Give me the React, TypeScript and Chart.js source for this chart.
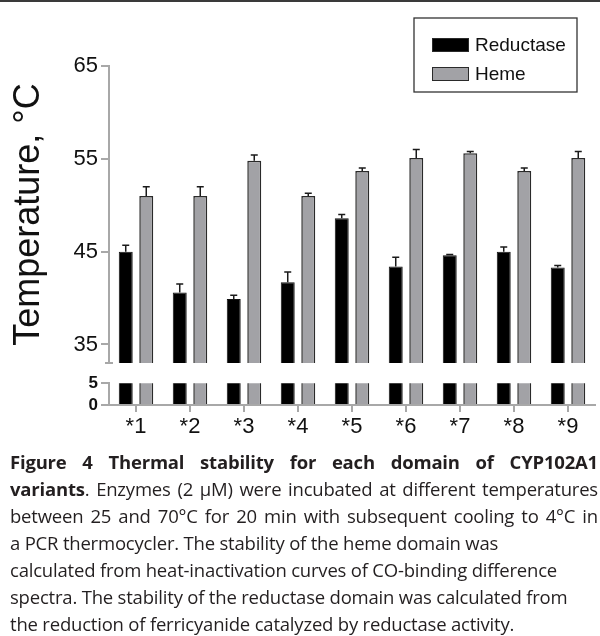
import React, { useEffect, useRef } from 'react';
import { Chart, registerables } from 'chart.js';

Chart.register(...registerables);

const categories = ['*1', '*2', '*3', '*4', '*5', '*6', '*7', '*8', '*9'];
const seriesLabels = ['Reductase', 'Heme'];
const reductase = [45.0, 40.6, 39.9, 41.7, 48.6, 43.4, 44.6, 45.0, 43.3];
const reductaseErr = [0.7, 0.9, 0.4, 1.1, 0.4, 1.0, 0.1, 0.5, 0.2];
const heme = [51.0, 51.0, 54.8, 51.0, 53.7, 55.1, 55.6, 53.7, 55.1];
const hemeErr = [1.0, 1.0, 0.6, 0.3, 0.3, 0.9, 0.2, 0.3, 0.7];
const upperTicks = [35, 45, 55, 65];
const upperRange = [33, 65];
const lowerTicks = [0, 5];
const lowerRange = [0, 5];
const yTitle = 'Temperature, \u00B0C';

const captionTitle = 'Figure 4 Thermal stability for each domain of CYP102A1';
const captionBoldStart = 'variants';
const captionLine2Rest = '. Enzymes (2 \u00B5M) were incubated at different temperatures';
const captionRest = [
  'between 25 and 70\u00B0C for 20 min with subsequent cooling to 4\u00B0C in',
  'a PCR thermocycler. The stability of the heme domain was',
  'calculated from heat-inactivation curves of CO-binding difference',
  'spectra. The stability of the reductase domain was calculated from',
  'the reduction of ferricyanide catalyzed by reductase activity.',
];

const AXIS = '#a8a8a8';
const TEXT = '#111111';
const FONT = "'Liberation Sans', Arial, sans-serif";
const BLACK = '#000000';
const GRAY = '#a2a2a6';

function makeDatasets() {
  return [
    {
      label: seriesLabels[0],
      data: reductase,
      errors: reductaseErr,
      backgroundColor: BLACK,
      borderColor: '#111111',
      borderWidth: 1,
      categoryPercentage: 0.76,
      barPercentage: 0.68,
      clip: 0,
    },
    {
      label: seriesLabels[1],
      data: heme,
      errors: hemeErr,
      backgroundColor: GRAY,
      borderColor: '#2a2a2a',
      borderWidth: 1.5,
      categoryPercentage: 0.76,
      barPercentage: 0.68,
      clip: 0,
    },
  ];
}

const errorBarPlugin = {
  id: 'errorBars',
  afterDatasetsDraw(chart: any) {
    const { ctx } = chart;
    const y = chart.scales.y;
    chart.data.datasets.forEach((ds: any, i: number) => {
      const meta = chart.getDatasetMeta(i);
      ctx.save();
      ctx.strokeStyle = '#1a1a1a';
      ctx.lineWidth = 1.5;
      meta.data.forEach((el: any, j: number) => {
        const top = y.getPixelForValue(ds.data[j] + ds.errors[j]);
        ctx.beginPath();
        ctx.moveTo(el.x, el.y);
        ctx.lineTo(el.x, top);
        ctx.moveTo(el.x - 3.5, top);
        ctx.lineTo(el.x + 3.5, top);
        ctx.stroke();
      });
      ctx.restore();
    });
  },
};

const breakCapPlugin = {
  id: 'breakCap',
  afterDraw(chart: any) {
    const { ctx, chartArea } = chart;
    ctx.save();
    ctx.strokeStyle = AXIS;
    ctx.lineWidth = 2;
    ctx.beginPath();
    ctx.moveTo(chartArea.left - 4, chartArea.bottom);
    ctx.lineTo(chartArea.left + 4, chartArea.bottom);
    ctx.stroke();
    ctx.restore();
  },
};

// draws the lower segment's vertical axis line over the clipped bars
const lowerAxisLinePlugin = {
  id: 'lowerAxisLine',
  afterDraw(chart: any) {
    const { ctx, chartArea } = chart;
    ctx.save();
    ctx.strokeStyle = AXIS;
    ctx.lineWidth = 2;
    ctx.beginPath();
    ctx.moveTo(chartArea.left, chartArea.top - 1);
    ctx.lineTo(chartArea.left, chartArea.bottom + 1);
    ctx.stroke();
    ctx.restore();
  },
};

const boxLegendPlugin = {
  id: 'boxLegend',
  afterDraw(chart: any) {
    const { ctx, chartArea } = chart;
    const bx = chartArea.right - 181;
    const by = 18;
    const bw = 163;
    const bh = 74;
    ctx.save();
    ctx.fillStyle = '#ffffff';
    ctx.fillRect(bx, by, bw, bh);
    ctx.strokeStyle = '#333333';
    ctx.lineWidth = 1.3;
    ctx.strokeRect(bx, by, bw, bh);
    chart.data.datasets.forEach((ds: any, i: number) => {
      const cy = by + 27 + i * 29;
      ctx.fillStyle = ds.backgroundColor;
      ctx.fillRect(bx + 18, cy - 7, 37, 14);
      ctx.strokeStyle = '#2a2a2a';
      ctx.lineWidth = 1;
      ctx.strokeRect(bx + 18.5, cy - 6.5, 36, 13);
      ctx.fillStyle = TEXT;
      ctx.font = `19px ${FONT}`;
      ctx.textBaseline = 'middle';
      ctx.textAlign = 'left';
      ctx.fillText(ds.label, bx + 61, cy + 1);
    });
    ctx.restore();
  },
};

export default function App() {
  const upperRef = useRef<HTMLCanvasElement>(null);
  const lowerRef = useRef<HTMLCanvasElement>(null);

  useEffect(() => {
    const upper = new Chart(upperRef.current as HTMLCanvasElement, {
      type: 'bar',
      data: { labels: categories, datasets: makeDatasets() as any },
      options: {
        responsive: false,
        animation: false,
        devicePixelRatio: 1,
        layout: { padding: { top: 66, left: 0, right: 5, bottom: 17 } },
        plugins: { legend: { display: false }, tooltip: { enabled: false } },
        scales: {
          x: { display: false },
          y: {
            min: upperRange[0],
            max: upperRange[1],
            afterBuildTicks: (scale: any) => {
              scale.ticks = upperTicks.map((v) => ({ value: v }));
            },
            afterFit: (scale: any) => {
              scale.width = 109;
            },
            ticks: { font: { family: FONT, size: 22 }, color: TEXT, padding: 3, autoSkip: false },
            grid: { drawOnChartArea: false, drawTicks: true, tickLength: 8, color: AXIS, lineWidth: 2 },
            border: { display: true, color: AXIS, width: 2 },
            title: {
              display: true,
              text: yTitle,
              font: { family: FONT, size: 36, lineHeight: 1.2 },
              color: TEXT,
              padding: { top: 7, bottom: 0 },
            },
          },
        },
      } as any,
      plugins: [errorBarPlugin, breakCapPlugin, boxLegendPlugin],
    });

    const lower = new Chart(lowerRef.current as HTMLCanvasElement, {
      type: 'bar',
      data: { labels: categories, datasets: makeDatasets() as any },
      options: {
        responsive: false,
        animation: false,
        devicePixelRatio: 1,
        layout: { padding: { top: 13, left: 0, right: 5, bottom: 0 } },
        plugins: { legend: { display: false }, tooltip: { enabled: false } },
        scales: {
          x: {
            afterFit: (scale: any) => {
              scale.height = 40;
            },
            ticks: { font: { family: FONT, size: 22 }, color: TEXT, padding: 2, maxRotation: 0, autoSkip: false },
            grid: { drawOnChartArea: false, drawTicks: true, tickLength: 7, color: AXIS, lineWidth: 2, offset: false },
            border: { display: true, color: AXIS, width: 2 },
          },
          y: {
            min: lowerRange[0],
            max: lowerRange[1],
            afterBuildTicks: (scale: any) => {
              scale.ticks = lowerTicks.map((v) => ({ value: v }));
            },
            afterFit: (scale: any) => {
              scale.width = 109;
            },
            ticks: { font: { family: FONT, size: 17, weight: 'bold' }, color: TEXT, padding: 3, autoSkip: false },
            grid: { drawOnChartArea: false, drawTicks: true, tickLength: 8, color: AXIS, lineWidth: 2 },
            border: { display: true, color: AXIS, width: 2 },
          },
        },
      } as any,
      plugins: [lowerAxisLinePlugin],
    });

    return () => {
      upper.destroy();
      lower.destroy();
    };
  }, []);

  const capFont = "'Open Sans', 'Noto Sans', sans-serif";
  const lineStyle: React.CSSProperties = {
    height: 27,
    lineHeight: '27px',
    whiteSpace: 'nowrap',
  };
  const justified: React.CSSProperties = {
    ...lineStyle,
    textAlign: 'justify',
    textAlignLast: 'justify' as any,
  };

  return (
    <div
      style={{
        position: 'absolute',
        left: 0,
        top: 0,
        width: 600,
        height: 636,
        background: '#ffffff',
        overflow: 'hidden',
      }}
    >
      <div style={{ position: 'absolute', left: 0, top: 0, width: 600, height: 2, background: '#3a3a3a' }} />
      <canvas
        ref={upperRef}
        width={600}
        height={380}
        style={{ position: 'absolute', left: 0, top: 0, width: 600, height: 380 }}
      />
      <canvas
        ref={lowerRef}
        width={600}
        height={75}
        style={{ position: 'absolute', left: 0, top: 370, width: 600, height: 75 }}
      />
      <div
        style={{
          position: 'absolute',
          left: 10,
          top: 448,
          width: 588,
          fontFamily: capFont,
          fontSize: 18.5,
          letterSpacing: '-0.2px',
          color: '#231f20',
        }}
      >
        <div style={{ ...justified, fontWeight: 'bold' }}>{captionTitle}</div>
        <div style={justified}>
          <b>{captionBoldStart}</b>
          {captionLine2Rest}
        </div>
        <div style={justified}>{captionRest[0]}</div>
        {captionRest.slice(1).map((t, i) => (
          <div key={i} style={lineStyle}>
            {t}
          </div>
        ))}
      </div>
    </div>
  );
}
